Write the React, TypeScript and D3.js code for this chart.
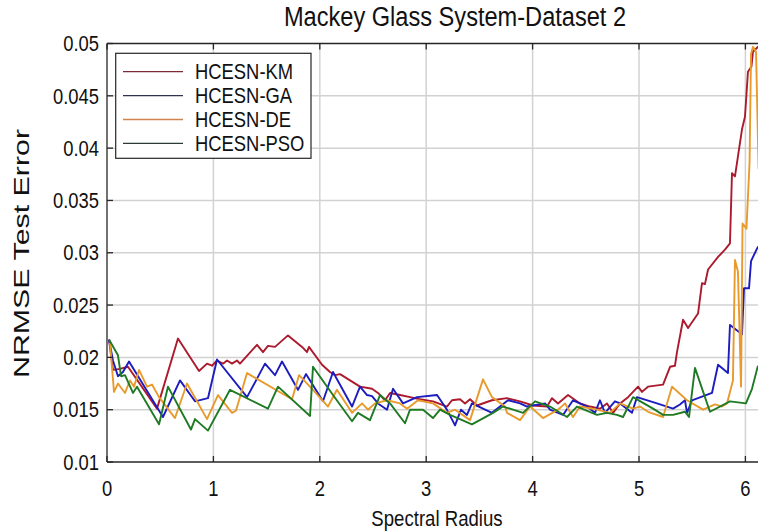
import { useEffect, useRef } from "react";
import * as d3 from "d3";

const W = 758;
const H = 532;

const seriesNames = ["HCESN-KM", "HCESN-GA", "HCESN-DE", "HCESN-PSO"];
const lineColors = ["#ab1a2d", "#1c1cbf", "#e89a2c", "#1f7a24"];
const legendColors = ["#7e2a36", "#2e3352", "#cf8450", "#2b3a36"];

const xTicks = [0, 1, 2, 3, 4, 5, 6];
const yTicks = [0.01, 0.015, 0.02, 0.025, 0.03, 0.035, 0.04, 0.045, 0.05];

// [spectral radius, NRMSE]
const kmData: [number, number][] = [
  [0.019, 0.0217], [0.056, 0.0188], [0.122, 0.0189], [0.197, 0.0191], [0.47, 0.0151],
  [0.667, 0.0218], [0.865, 0.0187], [0.94, 0.0194], [0.987, 0.0192], [1.034, 0.0197],
  [1.09, 0.0194], [1.128, 0.0197], [1.175, 0.0194], [1.222, 0.0197], [1.25, 0.0194],
  [1.41, 0.0212], [1.466, 0.0205], [1.513, 0.0211], [1.579, 0.021], [1.701, 0.0221],
  [1.833, 0.021], [1.88, 0.0205], [1.898, 0.021], [2.021, 0.0193], [2.096, 0.0186],
  [2.143, 0.0183], [2.19, 0.0184], [2.378, 0.0172], [2.491, 0.017], [2.547, 0.0166],
  [2.613, 0.0159], [2.66, 0.0166], [2.754, 0.0164], [2.848, 0.0162], [2.942, 0.016],
  [3.064, 0.0158], [3.195, 0.0153], [3.242, 0.0159], [3.318, 0.016], [3.365, 0.0156],
  [3.412, 0.016], [3.477, 0.0154], [3.618, 0.0159], [3.759, 0.0161], [3.882, 0.0158],
  [4.004, 0.0154], [4.135, 0.0153], [4.182, 0.0161], [4.239, 0.0156], [4.333, 0.0164],
  [4.446, 0.0156], [4.539, 0.0153], [4.633, 0.0151], [4.699, 0.0156], [4.756, 0.0147],
  [4.822, 0.0156], [4.897, 0.0162], [4.991, 0.0172], [5.028, 0.0167], [5.085, 0.0172],
  [5.226, 0.0174], [5.292, 0.0191], [5.338, 0.0192], [5.357, 0.0205], [5.414, 0.0236],
  [5.461, 0.0228], [5.555, 0.0242], [5.592, 0.0271], [5.62, 0.027], [5.649, 0.0284],
  [5.743, 0.0296], [5.808, 0.0303], [5.855, 0.0309], [5.874, 0.0376], [5.902, 0.0373],
  [5.968, 0.0418], [5.996, 0.043], [6.024, 0.0473], [6.057, 0.0478], [6.071, 0.0492],
  [6.1, 0.0495], [6.15, 0.05],
];

const gaData: [number, number][] = [
  [0.019, 0.0217], [0.056, 0.0197], [0.103, 0.0182], [0.15, 0.0186], [0.207, 0.0196],
  [0.526, 0.0143], [0.686, 0.0178], [0.827, 0.0158], [0.949, 0.0161], [1.034, 0.0198],
  [1.316, 0.0162], [1.485, 0.0194], [1.579, 0.0183], [1.645, 0.0196], [1.795, 0.0169],
  [1.87, 0.0184], [2.03, 0.0158], [2.124, 0.0186], [2.303, 0.0153], [2.378, 0.0172],
  [2.444, 0.0164], [2.491, 0.0163], [2.547, 0.0156], [2.632, 0.015], [2.688, 0.017],
  [2.782, 0.0156], [2.914, 0.0162], [3.102, 0.0164], [3.195, 0.015], [3.271, 0.0135],
  [3.327, 0.015], [3.383, 0.0145], [3.43, 0.0156], [3.618, 0.0147], [3.769, 0.0159],
  [3.882, 0.0156], [3.947, 0.0153], [4.117, 0.0156], [4.164, 0.015], [4.286, 0.0145],
  [4.38, 0.0159], [4.511, 0.0153], [4.586, 0.0147], [4.633, 0.0159], [4.68, 0.0147],
  [4.774, 0.0158], [4.822, 0.0156], [4.934, 0.0147], [4.981, 0.0162], [5.169, 0.0156],
  [5.32, 0.0151], [5.385, 0.0155], [5.432, 0.0159], [5.451, 0.0147], [5.498, 0.0159],
  [5.686, 0.0166], [5.743, 0.0193], [5.836, 0.0185], [5.855, 0.0231], [5.968, 0.0222],
  [5.987, 0.0266], [6.034, 0.0266], [6.053, 0.0292], [6.109, 0.0304], [6.15, 0.031],
];

const deData: [number, number][] = [
  [0.028, 0.0214], [0.066, 0.0167], [0.103, 0.0175], [0.169, 0.0166], [0.216, 0.0178],
  [0.254, 0.0172], [0.301, 0.0188], [0.376, 0.0172], [0.423, 0.0174], [0.489, 0.0162],
  [0.639, 0.0142], [0.752, 0.0175], [0.94, 0.0141], [1.043, 0.0164], [1.175, 0.0147],
  [1.212, 0.0149], [1.316, 0.0185], [1.739, 0.016], [1.805, 0.0183], [1.936, 0.0169],
  [2.077, 0.0153], [2.161, 0.0169], [2.303, 0.0147], [2.397, 0.0156], [2.453, 0.015],
  [2.519, 0.0156], [2.632, 0.0159], [2.754, 0.0156], [2.82, 0.0151], [2.923, 0.0159],
  [3.064, 0.0156], [3.195, 0.0147], [3.271, 0.015], [3.412, 0.014], [3.534, 0.0179],
  [3.618, 0.0162], [3.741, 0.0153], [3.759, 0.0147], [3.882, 0.014], [3.976, 0.0153],
  [4.098, 0.0142], [4.239, 0.015], [4.305, 0.0156], [4.38, 0.0143], [4.446, 0.0153],
  [4.605, 0.015], [4.727, 0.0147], [4.822, 0.0156], [4.944, 0.0151], [5.009, 0.0153],
  [5.085, 0.0148], [5.226, 0.0143], [5.31, 0.0172], [5.451, 0.0159], [5.602, 0.015],
  [5.714, 0.0155], [5.78, 0.0153], [5.827, 0.0156], [5.883, 0.0178], [5.902, 0.0293],
  [5.93, 0.0282], [5.959, 0.0172], [5.973, 0.0328], [6.01, 0.0323], [6.039, 0.0386],
  [6.053, 0.049], [6.071, 0.0497], [6.1, 0.0492], [6.124, 0.038],
];

const psoData: [number, number][] = [
  [0.019, 0.0217], [0.103, 0.0202], [0.132, 0.0182], [0.169, 0.0183], [0.244, 0.0166],
  [0.282, 0.0172], [0.489, 0.0136], [0.573, 0.0172], [0.789, 0.0131], [0.827, 0.0141],
  [0.949, 0.013], [1.156, 0.0169], [1.513, 0.0151], [1.607, 0.0172], [1.908, 0.0144],
  [1.936, 0.0191], [2.124, 0.0164], [2.303, 0.0139], [2.359, 0.0147], [2.472, 0.014],
  [2.566, 0.0164], [2.66, 0.0156], [2.801, 0.0137], [2.848, 0.015], [2.97, 0.015],
  [3.064, 0.0142], [3.13, 0.015], [3.224, 0.0145], [3.43, 0.0136], [3.628, 0.0147],
  [3.722, 0.0153], [3.816, 0.015], [3.91, 0.0147], [4.023, 0.0158], [4.164, 0.0153],
  [4.323, 0.0143], [4.417, 0.0153], [4.605, 0.0145], [4.699, 0.0147], [4.793, 0.0145],
  [4.85, 0.0143], [4.944, 0.0162], [5.132, 0.0151], [5.226, 0.0145], [5.32, 0.0145],
  [5.432, 0.0148], [5.47, 0.0143], [5.526, 0.019], [5.667, 0.0148], [5.855, 0.0158],
  [6.005, 0.0156], [6.062, 0.017], [6.118, 0.0192],
];

const allSeries = [kmData, gaData, deData, psoData];

// the picture is a little stretched vertically, so text is too
const SY = 1.17;

const App = () => {
  const svgRef = useRef<SVGSVGElement>(null);

  useEffect(() => {
    const svg = d3.select(svgRef.current);
    svg.selectAll("*").remove();

    const font = "'Liberation Sans', Arial, sans-serif";
    const left = 107;
    const top = 43.5;
    const bottom = 462;
    const x = d3.scaleLinear().domain([0, 6.2]).range([left, left + 6.2 * 106.4]);
    const y = d3.scaleLinear().domain([0.01, 0.05]).range([bottom, top]);
    const right = x(6.2);

    const label = (
      g: d3.Selection<any, any, any, any>,
      tx: number,
      ty: number,
      txt: string,
      size: number,
      anchor = "start"
    ) =>
      g
        .append("text")
        .attr("transform", `translate(${tx},${ty}) scale(1,${SY})`)
        .attr("text-anchor", anchor)
        .style("font-family", font)
        .style("font-size", `${size}px`)
        .attr("fill", "#111")
        .text(txt);

    svg.append("rect").attr("width", W).attr("height", H).attr("fill", "#fff");

    svg
      .append("defs")
      .append("clipPath")
      .attr("id", "plot-clip")
      .append("rect")
      .attr("x", left)
      .attr("y", top)
      .attr("width", right - left)
      .attr("height", bottom - top);

    // grid
    const grid = svg.append("g").attr("stroke", "#d2d2d2").attr("stroke-width", 1.5);
    grid
      .selectAll("line.v")
      .data(xTicks.slice(1))
      .join("line")
      .attr("x1", (d) => x(d))
      .attr("x2", (d) => x(d))
      .attr("y1", top)
      .attr("y2", bottom);
    grid
      .selectAll("line.h")
      .data(yTicks.slice(1, -1))
      .join("line")
      .attr("x1", left)
      .attr("x2", right)
      .attr("y1", (d) => y(d))
      .attr("y2", (d) => y(d));

    // lines
    const line = d3
      .line<[number, number]>()
      .x((d) => x(d[0]))
      .y((d) => y(d[1]));
    svg
      .append("g")
      .attr("clip-path", "url(#plot-clip)")
      .selectAll("path")
      .data(allSeries)
      .join("path")
      .attr("d", (d) => line(d))
      .attr("fill", "none")
      .attr("stroke", (_, i) => lineColors[i])
      .attr("stroke-width", 1.9)
      .attr("stroke-linejoin", "round");

    // frame
    const frame = svg.append("g").attr("stroke", "#262626").attr("stroke-width", 1.3);
    frame.append("line").attr("x1", left).attr("x2", left).attr("y1", top).attr("y2", bottom);
    frame.append("line").attr("x1", left).attr("x2", right).attr("y1", bottom).attr("y2", bottom);
    frame.append("line").attr("x1", left).attr("x2", right).attr("y1", top).attr("y2", top);

    // ticks (inside)
    xTicks.forEach((t) => {
      frame.append("line").attr("x1", x(t)).attr("x2", x(t)).attr("y1", bottom).attr("y2", bottom - 6);
      frame.append("line").attr("x1", x(t)).attr("x2", x(t)).attr("y1", top).attr("y2", top + 6);
    });
    yTicks.forEach((t) => {
      frame.append("line").attr("x1", left).attr("x2", left + 6).attr("y1", y(t)).attr("y2", y(t));
    });

    // tick labels
    const tickSize = 18.4;
    const half = 0.716 * tickSize * SY * 0.5;
    const xl = svg.append("g");
    xTicks.forEach((t) => label(xl, x(t), 488 + half, String(t), tickSize, "middle"));
    const yl = svg.append("g");
    yTicks.forEach((t) =>
      label(yl, left - 8, y(t) + half, String(+t.toFixed(3)), tickSize, "end")
    );

    // titles
    label(svg, 455, 26, "Mackey Glass System-Dataset 2", 23.6, "middle");
    label(svg, 437, 526, "Spectral Radius", 18.6, "middle");
    svg
      .append("text")
      .attr("transform", `translate(29, 253.5) rotate(-90) scale(1.38,1)`)
      .attr("text-anchor", "middle")
      .style("font-family", font)
      .style("font-size", "22px")
      .attr("fill", "#111")
      .text("NRMSE Test Error");

    // legend
    const lg = svg.append("g");
    lg.append("rect")
      .attr("x", 115.7)
      .attr("y", 53.3)
      .attr("width", 195.3)
      .attr("height", 105)
      .attr("fill", "#fff")
      .attr("stroke", "#262626")
      .attr("stroke-width", 1.2);
    seriesNames.forEach((name, i) => {
      const cy = 71.7 + i * 23.9;
      lg.append("line")
        .attr("x1", 123)
        .attr("x2", 183)
        .attr("y1", cy)
        .attr("y2", cy)
        .attr("stroke", legendColors[i])
        .attr("stroke-width", 1.3);
      label(lg, 195, cy + half, name, tickSize);
    });
  }, []);

  return (
    <svg
      ref={svgRef}
      width={W}
      height={H}
      style={{ position: "absolute", left: 0, top: 0 }}
    />
  );
};

export default App;
